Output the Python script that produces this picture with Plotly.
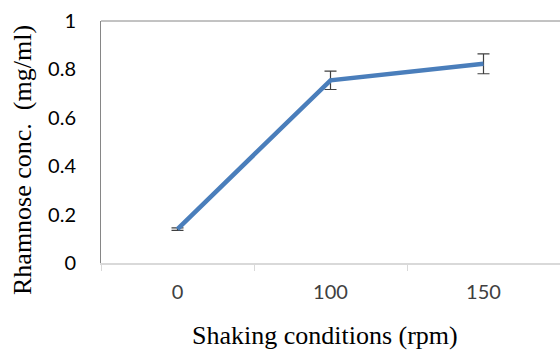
import plotly.graph_objects as go

# Rhamnose concentration under different shaking speeds
shaking_rpm = ["0", "100", "150"]
rhamnose_conc = [0.14, 0.755, 0.823]
rhamnose_err = [0.005, 0.038, 0.041]
y_ticks = [0, 0.2, 0.4, 0.6, 0.8, 1.0]
y_tick_text = ["0", "0.2", "0.4", "0.6", "0.8", "1"]

W, H = 560, 351
L, R, T, B = 101, 0, 21, 88
plot_w = W - L - R
plot_h = H - T - B

fig = go.Figure()
fig.add_trace(go.Scatter(
    x=shaking_rpm,
    y=rhamnose_conc,
    mode="lines",
    line=dict(color="#4a7ebb", width=4.5),
    error_y=dict(type="data", array=rhamnose_err, visible=True,
                 color="#404040", thickness=1.2, width=6),
    showlegend=False,
))

fig.update_layout(
    width=W, height=H,
    margin=dict(l=L, r=R, t=T, b=B, pad=0),
    paper_bgcolor="white", plot_bgcolor="white",
    xaxis=dict(
        type="category",
        categoryorder="array", categoryarray=shaking_rpm,
        tickson="boundaries", ticks="outside", ticklen=6,
        tickcolor="#d9d9d9", tickwidth=1,
        showline=True, linecolor="#d9d9d9", linewidth=1.5,
        showgrid=False, zeroline=False,
        tickfont=dict(family="Lato", size=20, color="#404040"),
        ticklabelstandoff=10,
        range=[-0.5, 2.5],
    ),
    yaxis=dict(
        range=[0, 1],
        tickvals=y_ticks, ticktext=y_tick_text,
        showline=True, linecolor="#868686", linewidth=1,
        showgrid=False, zeroline=False, ticks="",
        tickfont=dict(family="Lato", size=20, color="#000000"),
        ticklabelstandoff=20,
    ),
    shapes=[dict(type="line", xref="paper", yref="paper",
                 x0=0, x1=1, y0=1, y1=1,
                 line=dict(color="#868686", width=1))],
    annotations=[
        dict(text="Rhamnose conc.  (mg/ml)", xref="paper", yref="paper",
             x=(22 - L) / plot_w, y=(T + plot_h - 160) / plot_h,
             xanchor="center", yanchor="middle", textangle=-90,
             showarrow=False,
             font=dict(family="Liberation Serif", size=26, color="#000000")),
        dict(text="Shaking conditions (rpm)", xref="paper", yref="paper",
             x=(325 - L) / plot_w, y=(T + plot_h - 335) / plot_h,
             xanchor="center", yanchor="middle",
             showarrow=False,
             font=dict(family="Liberation Serif", size=26, color="#000000")),
    ],
)

fig.write_html("out.html")
